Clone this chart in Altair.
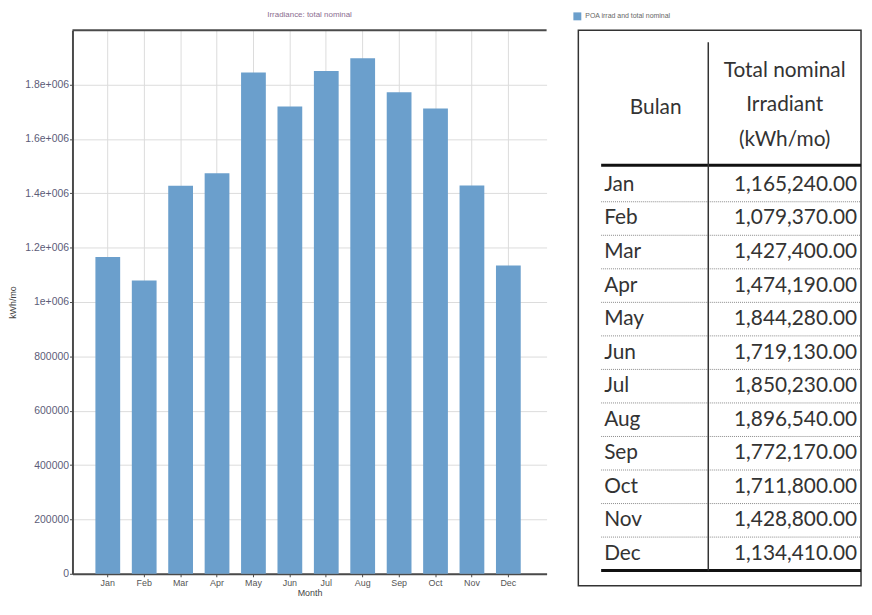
import altair as alt
import pandas as pd

# ---------------- data ----------------
months = ["Jan", "Feb", "Mar", "Apr", "May", "Jun", "Jul", "Aug", "Sep", "Oct", "Nov", "Dec"]
irradiance = [1165240, 1079370, 1427400, 1474190, 1844280, 1719130,
              1850230, 1896540, 1772170, 1711800, 1428800, 1134410]
y_ticks = [0, 200000, 400000, 600000, 800000, 1000000, 1200000, 1400000, 1600000, 1800000]
chart_title = "Irradiance: total nominal"
series_name = "POA irrad and total nominal"
header_left = "Bulan"
header_right = ["Total nominal", "Irradiant", "(kWh/mo)"]

# ---------------- layout / style ----------------
BLUE = "#6b9fcc"
AXIS = "#4a4a4a"
GRID = "#dcdcdc"
W, H = 478, 548          # bar chart plot area
TW, TH = 285, 560        # table frame
ROW_DOMAIN = [-4.615, 11.95]   # table rows in row units (0 = first month row)
HEADER_ROWS = [-3.40, -2.37, -1.33]
BULAN_ROW = -2.30
HEAD_LINE = -0.59
BOTTOM_LINE = 11.5
DIVIDER_TOP = -4.26
TFONT = "Lato"
TSIZE = 21
TCOLOR = "#333333"

df = pd.DataFrame({"Month": months, "Irr": irradiance, "row": list(range(len(months)))})

# ---------------- bar chart ----------------
bars = alt.Chart(df).mark_bar(color=BLUE).encode(
    x=alt.X("Month:N", sort=months,
            scale=alt.Scale(paddingInner=0.32, paddingOuter=0.67, align=0.47),
            axis=alt.Axis(title="Month", labelAngle=0, grid=True, gridColor=GRID,
                          bandPosition=0.5, domainColor=AXIS, domainWidth=2,
                          tickColor=AXIS, tickSize=3, labelFontSize=9,
                          labelColor="#555", labelPadding=2, titleFontSize=9,
                          titleFontWeight="normal", titleColor="#444",
                          titlePadding=1, labelFont="Liberation Sans",
                          titleFont="Liberation Sans")),
    y=alt.Y("Irr:Q", scale=alt.Scale(domain=[0, 2000000], nice=False, zero=True),
            axis=alt.Axis(title="kWh/mo", values=y_ticks,
                          labelExpr="datum.value >= 1000000 ? (datum.value / 1000000) + 'e+006' : datum.value + ''",
                          grid=True, gridColor=GRID, domainColor=AXIS, domainWidth=2,
                          tickColor=AXIS, tickSize=3, labelFontSize=10.5,
                          labelColor="#5c5c78", labelPadding=1, titleFontSize=9,
                          titleFontWeight="normal", titleColor="#444",
                          titlePadding=7, labelFont="Liberation Sans",
                          titleFont="Liberation Sans")),
)

top_line = alt.Chart(pd.DataFrame({"k": [0]})).mark_rule(color=AXIS, strokeWidth=2).encode(
    y=alt.value(0), x=alt.value(0), x2=alt.value(W)
)

left = alt.layer(bars, top_line).properties(
    width=W, height=H,
    title=alt.TitleParams(chart_title, fontSize=8, color="#8a6d8f", fontWeight="normal",
                          offset=10, anchor="middle", font="Liberation Sans"),
    view=alt.ViewBackground(stroke="transparent"),
)

# ---------------- table ----------------
yscale = alt.Scale(domain=ROW_DOMAIN, reverse=True, nice=False, zero=False)

month_text = alt.Chart(df).mark_text(align="left", baseline="middle", font=TFONT,
                                     fontSize=TSIZE, color=TCOLOR).encode(
    x=alt.value(26), y=alt.Y("row:Q", scale=yscale, axis=None), text="Month:N")

value_text = alt.Chart(df).mark_text(align="right", baseline="middle", font=TFONT,
                                     fontSize=TSIZE, color=TCOLOR).encode(
    x=alt.value(TW - 4), y=alt.Y("row:Q", scale=yscale, axis=None),
    text=alt.Text("Irr:Q", format=",.2f"))

hdr_right = alt.Chart(pd.DataFrame({"t": header_right, "row": HEADER_ROWS})).mark_text(
    align="center", baseline="middle", font=TFONT, fontSize=TSIZE, color=TCOLOR).encode(
    x=alt.value(208), y=alt.Y("row:Q", scale=yscale, axis=None), text="t:N")

hdr_left = alt.Chart(pd.DataFrame({"t": [header_left], "row": [BULAN_ROW]})).mark_text(
    align="center", baseline="middle", font=TFONT, fontSize=TSIZE, color=TCOLOR).encode(
    x=alt.value(78), y=alt.Y("row:Q", scale=yscale, axis=None), text="t:N")

separators = alt.Chart(df[df["row"] < len(months) - 1]).transform_calculate(
    sep="datum.row + 0.5").mark_rule(color="#8a8a8a", strokeWidth=1, strokeDash=[1, 1]).encode(
    x=alt.value(23), x2=alt.value(TW), y=alt.Y("sep:Q", scale=yscale, axis=None))

thick = alt.Chart(pd.DataFrame({"row": [HEAD_LINE, BOTTOM_LINE]})).mark_rule(
    color="#111", strokeWidth=3).encode(
    x=alt.value(23), x2=alt.value(TW), y=alt.Y("row:Q", scale=yscale, axis=None))

divider = alt.Chart(pd.DataFrame({"a": [DIVIDER_TOP], "b": [BOTTOM_LINE]})).mark_rule(
    color="#333", strokeWidth=1.5).encode(
    x=alt.value(131), y=alt.Y("a:Q", scale=yscale, axis=None), y2="b:Q")

legend_layer = alt.Chart(pd.DataFrame({"s": [series_name]})).mark_square(opacity=0).encode(
    x=alt.value(0), y=alt.value(0), size=alt.value(0),
    color=alt.Color("s:N", scale=alt.Scale(range=[BLUE]),
                    legend=alt.Legend(title=None, orient="none", legendX=-5, legendY=-18,
                                      symbolType="square", symbolSize=64, symbolOpacity=1,
                                      symbolStrokeWidth=0, labelFontSize=7,
                                      labelColor="#666", labelFont="Liberation Sans",
                                      padding=0)))

table = alt.layer(separators, thick, divider, hdr_left, hdr_right, month_text,
                  value_text, legend_layer).properties(
    width=TW, height=TH,
    view=alt.ViewBackground(stroke="#333", strokeWidth=1.5),
)

chart = alt.hconcat(left, table, spacing=24).resolve_scale(
    color="independent").resolve_legend(color="independent").properties(
    padding=0).configure(background="white")

chart.save("out.html", embed_options={"renderer": "svg", "actions": False})
